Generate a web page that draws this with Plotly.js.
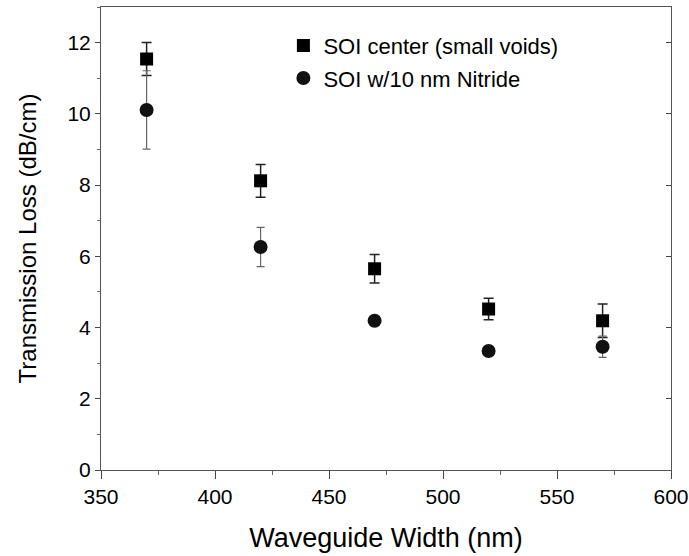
<!DOCTYPE html>
<html>
<head>
<meta charset="utf-8">
<script src="https://cdn.plot.ly/plotly-3.0.1.min.js"></script>
<style>html,body{margin:0;padding:0;background:#fff;}#chart{width:689px;height:556px;}</style>
</head>
<body>
<div id="chart"></div>
<script>
const widths = [370, 420, 470, 520, 570];
const lossCenter = [11.54, 8.12, 5.65, 4.52, 4.19];
const errCenter = [0.46, 0.46, 0.40, 0.30, 0.47];
const lossNitride = [10.11, 6.26, 4.19, 3.34, 3.46];
const errNitride = [1.10, 0.55, 0.05, 0.10, 0.30];
const nameCenter = "SOI center (small voids)";
const nameNitride = "SOI w/10 nm Nitride";

const FONT = "Liberation Sans, Arial, sans-serif";

const traces = [
  {
    x: widths, y: lossCenter, name: nameCenter, type: "scatter", mode: "markers",
    marker: {symbol: "square", size: 13, color: "#000"},
    error_y: {type: "data", array: errCenter, visible: true, color: "#222", thickness: 1.5, width: 5},
    legendgroup: "a"
  },
  {
    x: widths, y: lossNitride, name: nameNitride, type: "scatter", mode: "markers",
    marker: {symbol: "circle", size: 14, color: "#111"},
    error_y: {type: "data", array: errNitride, visible: true, color: "#666", thickness: 1.2, width: 4},
    legendgroup: "b"
  },
  {
    x: [widths[0]], y: [lossCenter[0]], yaxis: "y2", type: "scatter", mode: "markers",
    marker: {opacity: 0}, showlegend: false, hoverinfo: "skip"
  }
];

const layout = {
  width: 689, height: 556,
  paper_bgcolor: "#fff", plot_bgcolor: "#fff",
  margin: {l: 101, r: 18, t: 7, b: 86},
  font: {family: FONT, color: "#000"},
  showlegend: true,
  legend: {
    x: 0.32, y: 0.962, xanchor: "left", yanchor: "top",
    font: {family: FONT, size: 22, color: "#000"},
    bgcolor: "rgba(0,0,0,0)", tracegroupgap: 1, itemwidth: 30
  },
  xaxis: {
    range: [350, 600], dtick: 50, tick0: 350,
    ticks: "outside", ticklen: 8, tickwidth: 1, tickcolor: "#444",
    minor: {dtick: 25, ticks: "outside", ticklen: 4, tickcolor: "#666"},
    showline: true, linecolor: "#555", linewidth: 1, mirror: true,
    showgrid: false, zeroline: false,
    tickfont: {family: FONT, size: 21, color: "#000"},
    title: {text: "Waveguide Width (nm)", font: {family: FONT, size: 27, color: "#000"}, standoff: 20}
  },
  yaxis: {
    range: [0, 13], dtick: 2, tick0: 0,
    ticks: "outside", ticklen: 5, tickwidth: 1, tickcolor: "#444",
    minor: {dtick: 1, ticks: "outside", ticklen: 3, tickcolor: "#666"},
    showline: true, linecolor: "#555", linewidth: 1, mirror: true,
    showgrid: false, zeroline: false,
    tickfont: {family: FONT, size: 21, color: "#000"},
    title: {text: "Transmission Loss (dB/cm)", font: {family: FONT, size: 24, color: "#000"}, standoff: 24}
  },
  yaxis2: {
    overlaying: "y", side: "right", range: [0, 13], dtick: 2, tick0: 0,
    ticks: "inside", ticklen: 5, tickcolor: "#444", showticklabels: false,
    showgrid: false, zeroline: false, showline: false
  }
};

Plotly.newPlot("chart", traces, layout, {displayModeBar: false, staticPlot: true});
</script>
</body>
</html>
